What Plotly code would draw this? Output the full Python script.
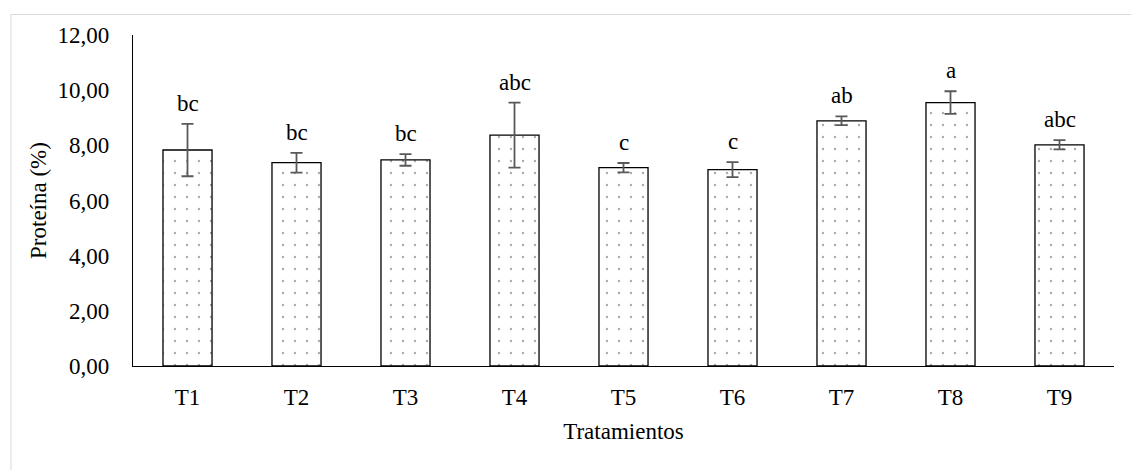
import plotly.graph_objects as go

categories = ["T1", "T2", "T3", "T4", "T5", "T6", "T7", "T8", "T9"]
protein = [7.83, 7.37, 7.47, 8.37, 7.19, 7.12, 8.89, 9.55, 8.02]
error = [0.95, 0.36, 0.21, 1.18, 0.17, 0.27, 0.16, 0.41, 0.17]
letters = ["bc", "bc", "bc", "abc", "c", "c", "ab", "a", "abc"]
y_ticks = [0, 2, 4, 6, 8, 10, 12]
y_tick_labels = ["0,00", "2,00", "4,00", "6,00", "8,00", "10,00", "12,00"]

FONT = "Liberation Serif, Times New Roman, serif"
FS = 23

fig = go.Figure()
fig.add_trace(go.Bar(
    x=categories,
    y=protein,
    marker=dict(
        color="white",
        line=dict(color="black", width=1.3),
        pattern=dict(shape=".", size=12, solidity=0.03, fgcolor="#555555", bgcolor="white"),
    ),
    error_y=dict(type="data", array=error, visible=True, color="#595959", thickness=1.8, width=6),
    width=0.45,
))

for c, v, e, t in zip(categories, protein, error, letters):
    fig.add_annotation(x=c, y=v + e, text=t, showarrow=False, yanchor="bottom",
                       yshift=6, font=dict(family=FONT, size=FS, color="black"))

L, R, T, B = 133, 17, 34.5, 104
W, H = 1131, 470
pw, ph = W - L - R, H - T - B
bottom_px = H - B
fig.add_shape(type="rect", xref="paper", yref="paper",
              x0=(11 - L) / pw, x1=(W + 5 - L) / pw,
              y0=(bottom_px - (H + 5)) / ph, y1=(bottom_px - 14) / ph,
              line=dict(color="#d9d9d9", width=1), fillcolor="rgba(0,0,0,0)", layer="below")

fig.update_layout(
    width=W, height=H,
    margin=dict(l=L, r=R, t=T, b=B, autoexpand=False),
    paper_bgcolor="white", plot_bgcolor="white",
    font=dict(family=FONT, size=FS, color="black"),
    showlegend=False,
    bargap=0.55,
)
fig.update_xaxes(
    showline=True, linecolor="black", linewidth=1.3, ticks="", showgrid=False,
    ticklabelstandoff=10,
    title=dict(text="Tratamientos", font=dict(family=FONT, size=FS), standoff=14),
)
fig.update_yaxes(
    range=[0, 12], tickvals=y_ticks, ticktext=y_tick_labels,
    showline=True, linecolor="black", linewidth=1.3, ticks="", showgrid=False,
    zeroline=False, ticklabelstandoff=18,
    title=dict(text="Proteína (%)", font=dict(family=FONT, size=FS), standoff=4),
)

fig.write_html("out.html")
